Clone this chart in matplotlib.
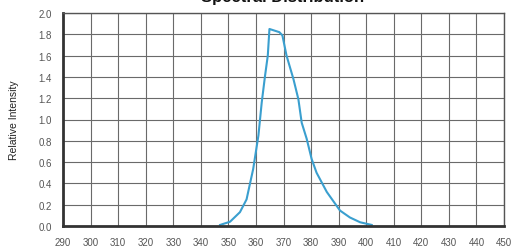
import numpy as np
import matplotlib.pyplot as plt

plt.rcParams["font.family"] = ["Liberation Sans", "DejaVu Sans"]

# spectral curve
wavelength = [347, 350.6, 354.2, 356.6, 359.0, 360.9, 362.1, 363.3, 364.3, 364.9,
              368.5, 369.6, 371.1, 373.6, 375.4, 376.6, 378.4, 380.2, 382.0,
              385.7, 390.5, 394.1, 397.8, 402]
intensity = [0.01, 0.04, 0.13, 0.25, 0.535, 0.85, 1.16, 1.41, 1.60, 1.85,
             1.82, 1.79, 1.60, 1.38, 1.19, 0.97, 0.82, 0.63, 0.50,
             0.32, 0.145, 0.08, 0.035, 0.01]

xticks = np.arange(290, 451, 10)
yticks = np.arange(0, 2.01, 0.2)

fig = plt.figure(figsize=(5.13, 2.53), dpi=100)
ax = fig.add_axes([63 / 513, 1 - 227 / 253, 441 / 513, 213 / 253])

ax.plot(wavelength, intensity, color="#3a9fcf", lw=1.5)

ax.set_xlim(290, 450)
ax.set_ylim(0, 2.0)
ax.set_xticks(xticks)
ax.set_yticks(yticks)
ax.set_yticklabels(["%.1f" % v for v in yticks])
ax.grid(True, color="#6a6a6a", lw=0.8)
ax.set_axisbelow(True)
ax.tick_params(length=0, labelsize=7, colors="#555555", pad=8)

for side in ["top", "right"]:
    ax.spines[side].set_linewidth(1.0)
    ax.spines[side].set_color("#555555")
for side in ["left", "bottom"]:
    ax.spines[side].set_linewidth(2.0)
    ax.spines[side].set_color("#333333")

fig.text(283, 253 + 2, "Spectral Distribution", transform=None, ha="center", va="center",
         fontsize=12, fontweight="bold", color="#111111")
ax.set_xlabel("Wavelength [nm]", fontsize=7.5, color="#222222", labelpad=3)
ax.set_ylabel("Relative Intensity", fontsize=7.5, color="#222222", labelpad=14)

fig.savefig("out.png", dpi=100)
